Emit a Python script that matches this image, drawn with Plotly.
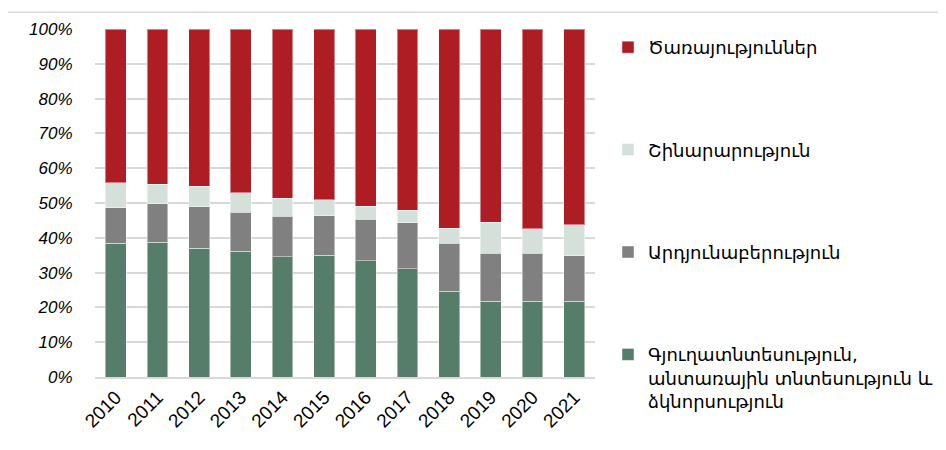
import plotly.graph_objects as go

years = ["2010", "2011", "2012", "2013", "2014", "2015", "2016", "2017", "2018", "2019", "2020", "2021"]

agriculture = [38.4, 38.7, 37.0, 36.1, 34.5, 35.0, 33.4, 31.1, 24.6, 21.7, 21.7, 21.7]
industry = [10.3, 11.1, 11.9, 11.3, 11.7, 11.4, 11.9, 13.2, 13.8, 13.8, 13.8, 13.2]
construction = [7.1, 5.6, 5.9, 5.6, 5.1, 4.6, 3.8, 3.6, 4.4, 9.0, 7.1, 8.9]
services = [44.2, 44.6, 45.2, 47.0, 48.7, 49.0, 50.9, 52.1, 57.2, 55.5, 57.4, 56.2]

names = {
    "agri": "Գյուղատնտեսություն,<br>անտառային տնտեսություն և<br>ձկնորսություն",
    "ind": "Արդյունաբերություն",
    "con": "Շինարարություն",
    "ser": "Ծառայություններ",
}
colors = {"agri": "#557D69", "ind": "#808080", "con": "#D6E0DA", "ser": "#AE1D23"}
ranks = {"agri": 4, "ind": 3, "con": 2, "ser": 1}
series = [("agri", agriculture), ("ind", industry), ("con", construction), ("ser", services)]

fig = go.Figure()
for key, vals in series:
    fig.add_trace(go.Bar(
        x=years, y=vals, name=names[key], legendgroup=key, legendrank=ranks[key],
        marker=dict(color=colors[key], line=dict(color="rgba(255,255,255,0.45)", width=1)),
    ))

# page body has an 8px offset; compensate in margins
L, T = 87, 17
fig.update_layout(
    barmode="stack",
    bargap=0.5,
    width=946, height=450,
    margin=dict(l=L, r=946 - L - 500, t=T, b=450 - T - 352),
    paper_bgcolor="white", plot_bgcolor="white",
    font=dict(family="DejaVu Sans, Liberation Sans, sans-serif", color="#000000"),
    legend=dict(
        x=1.026, xanchor="left", y=1.0, yanchor="top",
        traceorder="grouped", tracegroupgap=76, valign="top",
        font=dict(size=18, family="DejaVu Sans", color="#000000"),
        itemwidth=30, maxheight=440,
    ),
    showlegend=True,
)
fig.update_yaxes(
    range=[0, 100], dtick=10, ticksuffix="%",
    showgrid=True, gridcolor="#D9D9D9", gridwidth=1.5,
    zeroline=False, showline=False,
    ticks="outside", ticklen=18, tickcolor="rgba(0,0,0,0)",
    tickfont=dict(size=17, family="Liberation Sans", style="italic", color="#000000"),
)
fig.update_xaxes(
    tickangle=-45, showline=True, linecolor="#D9D9D9", linewidth=1.5,
    ticks="", tickfont=dict(size=19, family="Liberation Sans", color="#000000"),
)
fig.add_shape(type="line", xref="paper", yref="paper",
              x0=(4 - 95) / 500, x1=(946 - 95) / 500, y0=(377 - 8) / 352, y1=(377 - 8) / 352,
              line=dict(color="#D9D9D9", width=1.5))
fig.add_shape(type="line", xref="paper", yref="paper",
              x0=(4 - 95) / 500, x1=(4 - 95) / 500, y0=(377 - 8) / 352, y1=(377 - 450) / 352,
              line=dict(color="#D9D9D9", width=1.5))

fig.write_html("out.html")
